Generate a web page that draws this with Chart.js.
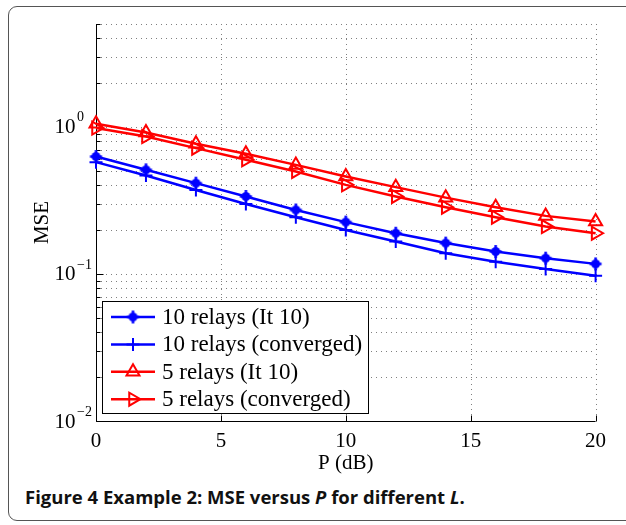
<!DOCTYPE html>
<html>
<head>
<meta charset="utf-8">
<script src="https://cdn.jsdelivr.net/npm/chart.js@4.4.0/dist/chart.umd.min.js"></script>
<style>
  html, body { margin: 0; padding: 0; background: #fff; }
  body { width: 626px; height: 525px; position: relative; overflow: hidden; }
  .frame { position: absolute; left: 8px; top: 6px; width: 720px; height: 515px; border: 1.5px solid #555; border-radius: 9px; box-sizing: border-box; }
  #wrap { position: absolute; left: 0; top: 0; width: 626px; height: 480px; }
  .caption { position: absolute; left: 25px; top: 487.5px; font-family: "Open Sans", sans-serif; font-weight: 700; font-size: 18.5px; line-height: 18.5px; color: #111; white-space: nowrap; }
</style>
</head>
<body>
<div class="frame"></div>
<div id="wrap"><canvas id="myChart"></canvas></div>
<div class="caption">Figure 4 Example 2: MSE versus <i>P</i> for different <i>L</i>.</div>
<script>
// data
const pValues = [0, 2, 4, 6, 8, 10, 12, 14, 16, 18, 20];
const mse10It = [0.628, 0.510, 0.414, 0.336, 0.272, 0.225, 0.189, 0.162, 0.142, 0.128, 0.117];
const mse10Conv = [0.575, 0.467, 0.372, 0.299, 0.243, 0.199, 0.166, 0.138, 0.121, 0.108, 0.097];
const mse5It = [1.048, 0.914, 0.766, 0.655, 0.551, 0.459, 0.389, 0.330, 0.284, 0.248, 0.227];
const mse5Conv = [0.980, 0.859, 0.716, 0.597, 0.497, 0.403, 0.336, 0.284, 0.243, 0.210, 0.189];
const seriesNames = ['10 relays (It 10)', '10 relays (converged)', '5 relays (It 10)', '5 relays (converged)'];
const xTicks = [0, 5, 10, 15, 20];
const yDecades = [0.01, 0.1, 1];
const yExponents = ['\u22122', '\u22121', '0'];
const yMax = 5;

const SERIF = '"Liberation Serif", "Times New Roman", serif';

// minor log ticks 1..9 x 10^n up to yMax
const yTicks = [];
yDecades.forEach(d => {
    for (let m = 1; m <= 9; m++) {
        const v = +(m * d).toPrecision(3);
        if (v <= yMax) yTicks.push(v);
    }
});

// '*' marker: filled dot with a plus on top
const starMark = document.createElement('canvas');
starMark.width = 15; starMark.height = 15;
(() => {
    const c = starMark.getContext('2d');
    c.fillStyle = '#0000ff';
    c.strokeStyle = '#0000ff';
    c.lineWidth = 2.5;
    c.beginPath(); c.arc(7.5, 7.5, 4.5, 0, Math.PI * 2); c.fill();
    c.beginPath();
    c.moveTo(7.5, 1); c.lineTo(7.5, 14);
    c.moveTo(1.5, 7.5); c.lineTo(13.5, 7.5);
    c.stroke();
})();

const toXY = arr => arr.map((v, i) => ({ x: pValues[i], y: v }));

const makeSet = (label, data, color, style, radius, rotation) => ({
    label: label,
    data: toXY(data),
    borderColor: color,
    backgroundColor: color,
    borderWidth: 2.5,
    pointStyle: style,
    pointRadius: radius,
    pointHoverRadius: radius,
    pointBorderWidth: 2,
    pointBorderColor: color,
    pointBackgroundColor: 'rgba(0,0,0,0)',
    pointRotation: rotation || 0,
    tension: 0,
    clip: false
});

const datasets = [
    makeSet(seriesNames[0], mse10It, '#0000ff', starMark, 7),
    makeSet(seriesNames[1], mse10Conv, '#0000ff', 'cross', 6.5),
    makeSet(seriesNames[2], mse5It, '#ff0000', 'triangle', 7.5),
    makeSet(seriesNames[3], mse5Conv, '#ff0000', 'triangle', 7.5, 90)
];

// dotted grid, axis lines and inward ticks
const axesPlugin = {
    id: 'axesPlugin',
    beforeDatasetsDraw(chart) {
        const { ctx, chartArea: a, scales: { x, y } } = chart;
        ctx.save();
        ctx.strokeStyle = '#808080';
        ctx.lineWidth = 1;
        ctx.setLineDash([1, 4]);
        yTicks.forEach(v => {
            const py = Math.round(y.getPixelForValue(v)) + 0.5;
            ctx.beginPath(); ctx.moveTo(a.left, py); ctx.lineTo(a.right, py); ctx.stroke();
        });
        xTicks.forEach(v => {
            if (v === xTicks[0]) return;
            const px = Math.round(x.getPixelForValue(v)) + 0.5;
            ctx.beginPath(); ctx.moveTo(px, a.top); ctx.lineTo(px, a.bottom); ctx.stroke();
        });
        ctx.setLineDash([]);
        ctx.strokeStyle = '#000';
        const left = Math.round(a.left) + 0.5;
        const bottom = Math.round(a.bottom) + 0.5;
        ctx.beginPath();
        ctx.moveTo(left, a.top); ctx.lineTo(left, bottom); ctx.lineTo(a.right, bottom);
        yTicks.forEach(v => {
            const py = Math.round(y.getPixelForValue(v)) + 0.5;
            const len = yDecades.includes(v) ? 7 : 4;
            ctx.moveTo(left, py); ctx.lineTo(left + len, py);
        });
        xTicks.forEach(v => {
            const px = Math.round(x.getPixelForValue(v)) + 0.5;
            ctx.moveTo(px, bottom); ctx.lineTo(px, bottom - 6);
        });
        ctx.stroke();
        ctx.restore();
    },
    afterDraw(chart) {
        const { ctx, scales: { y } } = chart;
        ctx.save();
        ctx.fillStyle = '#000';
        ctx.textBaseline = 'middle';
        ctx.textAlign = 'left';
        // 10^n labels
        yDecades.forEach((v, i) => {
            const py = y.getPixelForValue(v);
            ctx.font = '21px ' + SERIF;
            ctx.fillText('10', 54.5, py + 1);
            ctx.font = '14px ' + SERIF;
            ctx.fillText(yExponents[i], 77, py - 9);
        });

        // legend box
        const bx = 102.5, by = 301.5, bw = 266, bh = 112;
        ctx.fillStyle = '#fff';
        ctx.fillRect(bx, by, bw, bh);
        ctx.strokeStyle = '#000';
        ctx.lineWidth = 1;
        ctx.strokeRect(bx, by, bw, bh);
        ctx.font = '23px ' + SERIF;
        chart.data.datasets.forEach((ds, i) => {
            const ly = 317 + i * 27.4;
            ctx.strokeStyle = ds.borderColor;
            ctx.lineWidth = ds.borderWidth;
            ctx.beginPath(); ctx.moveTo(111, ly); ctx.lineTo(155, ly); ctx.stroke();
            ctx.fillStyle = 'rgba(0,0,0,0)';
            ctx.lineWidth = ds.pointBorderWidth;
            Chart.helpers.drawPoint(ctx, {
                pointStyle: ds.pointStyle,
                radius: ds.pointRadius,
                rotation: ds.pointRotation,
                borderWidth: ds.pointBorderWidth
            }, 133, ly);
            ctx.fillStyle = '#000';
            ctx.fillText(ds.label, 162, ly + 1);
        });
        ctx.restore();
    }
};

const ctx = document.getElementById('myChart').getContext('2d');
const myChart = new Chart(ctx, {
    type: 'line',
    data: { datasets: datasets },
    options: {
        responsive: true,
        maintainAspectRatio: false,
        animation: false,
        layout: { padding: { top: 24, right: 30.4, left: 0, bottom: 0 } },
        plugins: {
            legend: { display: false },
            tooltip: { enabled: false }
        },
        scales: {
            x: {
                type: 'linear',
                min: 0,
                max: 20,
                afterBuildTicks: s => { s.ticks = xTicks.map(v => ({ value: v })); },
                afterFit: s => { s.height = 59; },
                grid: { display: false, drawTicks: false },
                border: { display: false },
                ticks: { color: '#000', padding: 8, maxRotation: 0, font: { family: SERIF, size: 21 } },
                title: {
                    display: true,
                    text: 'P (dB)',
                    color: '#000',
                    font: { family: SERIF, size: 21, lineHeight: 1.2 },
                    padding: { top: 0, bottom: 4.4 }
                }
            },
            y: {
                type: 'logarithmic',
                min: 0.01,
                max: yMax,
                afterBuildTicks: s => { s.ticks = yTicks.map(v => ({ value: v })); },
                afterFit: s => { s.width = 96; },
                grid: { display: false, drawTicks: false },
                border: { display: false },
                ticks: { display: false },
                title: {
                    display: true,
                    text: 'MSE',
                    color: '#000',
                    font: { family: SERIF, size: 21, lineHeight: 1.2 },
                    padding: { top: 29.4, bottom: 0 }
                }
            }
        }
    },
    plugins: [axesPlugin]
});
</script>
</body>
</html>
